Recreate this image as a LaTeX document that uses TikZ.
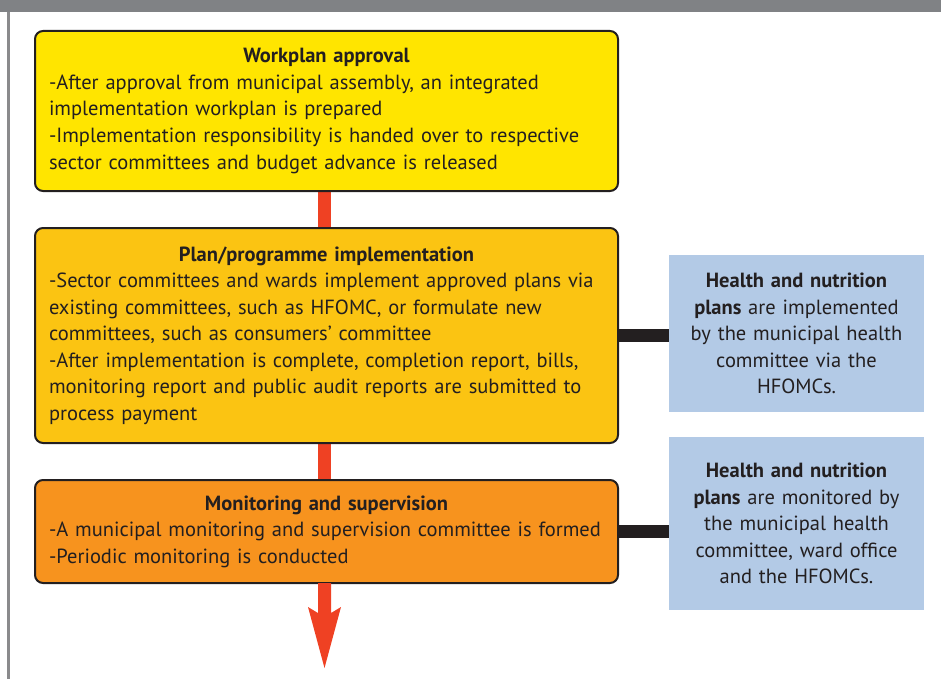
\documentclass[tikz,border=0pt]{standalone}
\usepackage{fontspec}
\setmainfont{PT Sans}
\definecolor{hdrgray}{HTML}{808285}
\definecolor{edgegray}{HTML}{8A8A8C}
\definecolor{boxline}{HTML}{231F20}
\definecolor{yelA}{HTML}{FFE500}
\definecolor{yelB}{HTML}{FBC412}
\definecolor{orgC}{HTML}{F7931E}
\definecolor{redlink}{HTML}{EF4123}
\definecolor{bluebox}{HTML}{B3CAE6}
\definecolor{txt}{HTML}{231F20}
\tikzset{
  mainbox/.style={rectangle, rounded corners=8pt, draw=boxline, line width=2pt,
    minimum width=583pt, text width=555pt, inner xsep=14pt, inner ysep=4pt, align=left,
    text=txt, font={\fontsize{20.5}{26.5}\selectfont}},
  sidebox/.style={rectangle, fill=bluebox, minimum width=255pt, text width=240pt,
    inner xsep=7.5pt, align=center, text=txt, font={\fontsize{20.5}{26.5}\selectfont}},
  redline/.style={draw=redlink, line width=13pt},
  blackline/.style={draw=boxline, line width=13pt}
}
\begin{document}
\begin{tikzpicture}[x=1pt,y=-1pt]
\useasboundingbox (0,0) rectangle (941,679);
% frame
\fill[hdrgray] (0,0) rectangle (941,12.5);
\fill[edgegray] (7,12.5) rectangle (10,679);
% boxes
\node[sidebox, minimum height=157pt] (h1) at (796.5,333.5)
  {\textbf{Health and nutrition}\\ \textbf{plans} are implemented\\ by the municipal health\\ committee via the\\ HFOMCs.};
\node[sidebox, minimum height=173pt] (h2) at (796.5,523.5)
  {\textbf{Health and nutrition}\\ \textbf{plans} are monitored by\\ the municipal health\\ committee, ward office\\ and the HFOMCs.};
% connectors (behind)
\coordinate (c1) at (324.5,111);
\coordinate (c2) at (324.5,335.5);
\coordinate (c3) at (324.5,531.5);
\draw[redline] (c1) -- (c2);
\draw[redline] (c2) -- (c3);
\draw[blackline] (326.5,335.5) -- (h1.west |- 0,335.5);
\draw[blackline] (326.5,531.5) -- (h2.west |- 0,531.5);
\node[mainbox, fill=yelA, minimum height=160pt] (b1) at (326.5,111)
  {\makebox[\linewidth]{\bfseries Workplan approval}\\
   -After approval from municipal assembly, an integrated\\
   implementation workplan is prepared\\
   -Implementation responsibility is handed over to respective\\
   sector committees and budget advance is released};
\node[mainbox, fill=yelB, minimum height=215pt] (b2) at (326.5,335.5)
  {\makebox[\linewidth]{\bfseries Plan/programme implementation}\\
   -Sector committees and wards implement approved plans via\\
   existing committees, such as HFOMC, or formulate new\\
   committees, such as consumers’ committee\\
   -After implementation is complete, completion report, bills,\\
   monitoring report and public audit reports are submitted to\\
   process payment};
\node[mainbox, fill=orgC, minimum height=103pt] (b3) at (326.5,531.5)
  {\makebox[\linewidth]{\bfseries Monitoring and supervision}\\
   -A municipal monitoring and supervision committee is formed\\
   -Periodic monitoring is conducted};
% exit arrow
\coordinate (a0) at ([xshift=-2pt]b3.south);
\fill[redlink] ([xshift=-6.5pt,yshift=1pt]a0) -- ([xshift=-6.5pt,yshift=-29pt]a0)
  -- ([xshift=-16.5pt,yshift=-23pt]a0) -- ([yshift=-84pt]a0)
  -- ([xshift=16.5pt,yshift=-23pt]a0) -- ([xshift=6.5pt,yshift=-29pt]a0)
  -- ([xshift=6.5pt,yshift=1pt]a0) -- cycle;
\end{tikzpicture}
\end{document}
